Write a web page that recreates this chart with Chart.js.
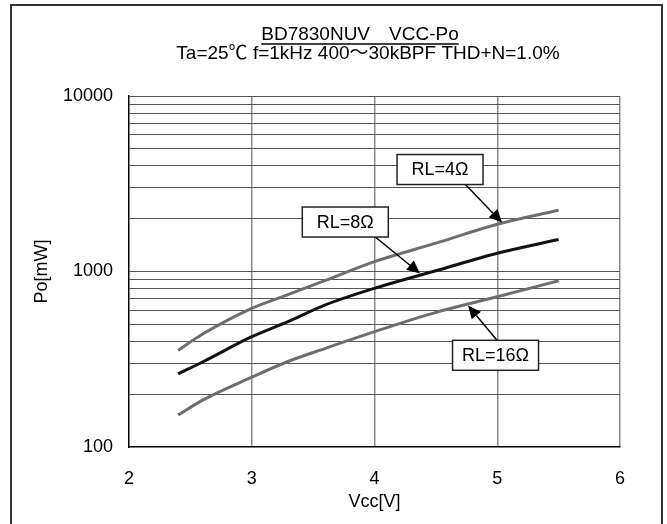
<!DOCTYPE html>
<html>
<head>
<meta charset="utf-8">
<script src="https://cdn.jsdelivr.net/npm/chart.js@4/dist/chart.umd.min.js"></script>
<style>
  html, body { margin: 0; padding: 0; background: #fff; }
  #wrap { width: 667px; height: 524px; position: relative; }
</style>
</head>
<body>
<div id="wrap"><canvas id="c" width="667" height="524"></canvas></div>
<script>
// ---- data ----
const titleText = 'BD7830NUV\u3000VCC-Po';
const subtitleText = 'Ta=25\u2103 f=1kHz 400\uFF5E30kBPF THD+N=1.0%';
const xTitle = 'Vcc[V]';
const yTitle = 'Po[mW]';
const vcc = [2.4, 2.6, 3.0, 3.3, 3.6, 4.0, 4.5, 5.0, 5.5];
const po4 = [355, 440, 617, 740, 890, 1138, 1450, 1860, 2235];
const po8 = [261, 305, 425, 520, 645, 802, 1010, 1270, 1520];
const po16 = [152, 185, 250, 308, 365, 454, 585, 718, 885];
const seriesNames = ['RL=4\u03A9', 'RL=8\u03A9', 'RL=16\u03A9'];
const xTicks = [2, 3, 4, 5, 6];
const yGridValues = [100,200,300,400,500,600,700,800,900,1000,2000,3000,4000,5000,6000,7000,8000,9000,10000];
const yLabelValues = [100, 1000, 10000];

const FONT = '"Liberation Sans", Arial, "Noto Sans CJK JP", sans-serif';

const pts = arr => arr.map((v, i) => ({ x: vcc[i], y: v }));

// label boxes and arrows, in data coordinates
const notes = [
  { text: seriesNames[0], box: [4.534, 3811], tail: [4.737, 3153], tip: [5.039, 1900] },
  { text: seriesNames[1], box: [3.762, 1914], tail: [4.004, 1578], tip: [4.371, 975] },
  { text: seriesNames[2], box: [4.986, 333], tail: [4.996, 407], tip: [4.762, 640] }
];

const framePlugin = {
  id: 'frame',
  beforeDraw(chart) {
    const ctx = chart.ctx;
    ctx.save();
    ctx.strokeStyle = '#333';
    ctx.lineWidth = 2;
    ctx.beginPath();
    ctx.moveTo(11, 524);
    ctx.lineTo(11, 5);
    ctx.lineTo(662, 5);
    ctx.lineTo(662, 524);
    ctx.stroke();
    ctx.restore();
  },
  afterDraw(chart) {
    const ctx = chart.ctx;
    ctx.save();
    ctx.fillStyle = '#000';
    ctx.textAlign = 'center';
    ctx.textBaseline = 'middle';
    ctx.font = '19px ' + FONT;
    const tx = 360, ty = 35;
    ctx.fillText(titleText, tx, ty);
    const w = ctx.measureText(titleText).width;
    ctx.strokeStyle = '#000';
    ctx.lineWidth = 1.5;
    ctx.beginPath();
    ctx.moveTo(tx - w / 2, 44);
    ctx.lineTo(tx + w / 2, 44);
    ctx.stroke();
    ctx.fillText(subtitleText, 368, 54);
    ctx.restore();
  }
};

const notePlugin = {
  id: 'notes',
  afterDatasetsDraw(chart) {
    const ctx = chart.ctx;
    const xs = chart.scales.x, ys = chart.scales.y;
    const P = p => [xs.getPixelForValue(p[0]), ys.getPixelForValue(p[1])];
    ctx.save();
    notes.forEach(n => {
      const [tx, ty] = P(n.tail);
      const [hx, hy] = P(n.tip);
      ctx.strokeStyle = '#000';
      ctx.fillStyle = '#000';
      ctx.lineWidth = 1.5;
      const ang = Math.atan2(hy - ty, hx - tx);
      const L = 13, W = 6;
      const bx = hx - L * Math.cos(ang), by = hy - L * Math.sin(ang);
      ctx.beginPath();
      ctx.moveTo(tx, ty);
      ctx.lineTo(bx, by);
      ctx.stroke();
      ctx.beginPath();
      ctx.moveTo(hx, hy);
      ctx.lineTo(bx + W * Math.sin(ang), by - W * Math.cos(ang));
      ctx.lineTo(bx - W * Math.sin(ang), by + W * Math.cos(ang));
      ctx.closePath();
      ctx.fill();
      const [cx, cy] = P(n.box);
      const bw = 86, bh = 30;
      ctx.fillStyle = '#fff';
      ctx.fillRect(cx - bw / 2, cy - bh / 2, bw, bh);
      ctx.lineWidth = 1.5;
      ctx.strokeStyle = '#222';
      ctx.strokeRect(cx - bw / 2, cy - bh / 2, bw, bh);
      ctx.fillStyle = '#000';
      ctx.font = '18px ' + FONT;
      ctx.textAlign = 'center';
      ctx.textBaseline = 'middle';
      ctx.fillText(n.text, cx, cy + 1);
    });
    ctx.restore();
  }
};

new Chart(document.getElementById('c'), {
  type: 'line',
  data: {
    datasets: [
      { label: seriesNames[0], data: pts(po4), borderColor: '#6e6e6e', borderWidth: 3 },
      { label: seriesNames[1], data: pts(po8), borderColor: '#111111', borderWidth: 3 },
      { label: seriesNames[2], data: pts(po16), borderColor: '#6e6e6e', borderWidth: 3 }
    ]
  },
  options: {
    responsive: false,
    animation: false,
    devicePixelRatio: 1,
    layout: { padding: { top: 96, right: 47, left: 0, bottom: 0 } },
    elements: {
      point: { radius: 0 },
      line: { cubicInterpolationMode: 'monotone', borderCapStyle: 'butt' }
    },
    plugins: {
      legend: { display: false },
      tooltip: { enabled: false },
      title: { display: false }
    },
    scales: {
      x: {
        type: 'linear',
        min: 2, max: 6,
        afterBuildTicks: s => { s.ticks = xTicks.map(v => ({ value: v })); },
        afterFit: s => { s.height = 77; },
        ticks: { color: '#000', font: { size: 18, family: FONT }, padding: 21, maxRotation: 0 },
        grid: {
          drawTicks: false,
          color: ctx => (ctx.tick && ctx.tick.value === 2) ? 'rgba(0,0,0,0)' : '#8a8a8a',
          lineWidth: 1.5
        },
        border: { color: '#000', width: 1.5 },
        title: { display: true, text: xTitle, color: '#000', font: { size: 18, family: FONT }, padding: { top: 11, bottom: 11 } }
      },
      y: {
        type: 'logarithmic',
        min: 100, max: 10000,
        afterBuildTicks: s => { s.ticks = yGridValues.map(v => ({ value: v })); },
        afterFit: s => { s.width = 129; },
        ticks: {
          autoSkip: false,
          color: '#000',
          font: { size: 18, family: FONT },
          padding: 16,
          callback: v => yLabelValues.includes(v) ? String(v) : ''
        },
        grid: {
          drawTicks: false,
          color: ctx => (ctx.tick && ctx.tick.value === 100) ? 'rgba(0,0,0,0)' : '#555',
          lineWidth: 1
        },
        border: { color: '#000', width: 1.5 },
        title: { display: true, text: yTitle, color: '#000', font: { size: 18, family: FONT }, padding: { top: 31, bottom: 31 } }
      }
    }
  },
  plugins: [framePlugin, notePlugin]
});
</script>
</body>
</html>
